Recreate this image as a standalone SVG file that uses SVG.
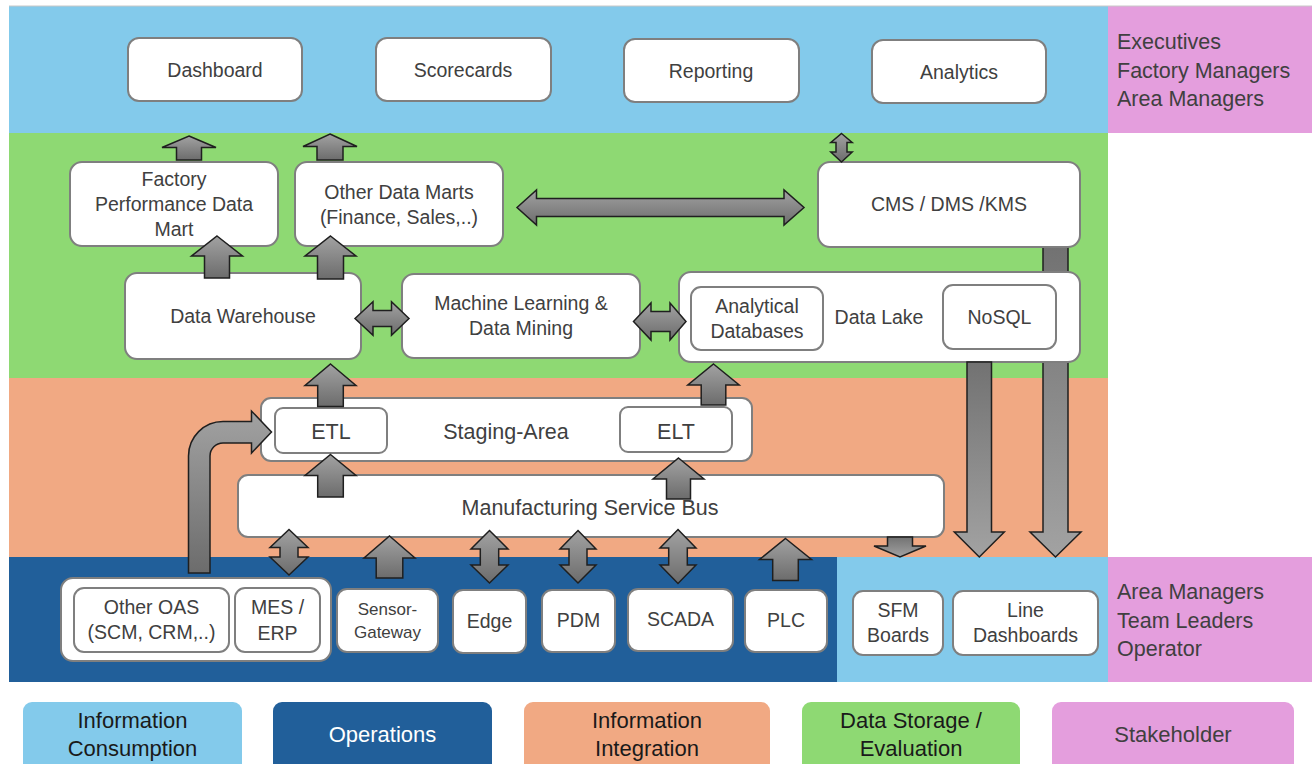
<svg xmlns="http://www.w3.org/2000/svg" width="1312" height="764" viewBox="0 0 1312 764">
<defs>
<linearGradient id="gUp" x1="0" y1="0" x2="0" y2="1"><stop offset="0" stop-color="#a2a2a2"/><stop offset="1" stop-color="#6c6c6c"/></linearGradient>
<linearGradient id="gDown" x1="0" y1="0" x2="0" y2="1"><stop offset="0" stop-color="#727272"/><stop offset="1" stop-color="#a2a2a2"/></linearGradient>
<style>
.box{fill:#fff;stroke:#7f7f7f;stroke-width:2}
.t{font-family:"Liberation Sans",Arial,sans-serif;font-size:19.5px;fill:#404040;text-anchor:middle}
.ts{font-size:17px}
.tb{font-size:21.5px}
.sh{font-family:"Liberation Sans",Arial,sans-serif;font-size:21.5px;fill:#404040}
.lg{font-family:"Liberation Sans",Arial,sans-serif;font-size:22px;fill:#1a1a1a;text-anchor:middle}
.ar{fill:url(#gUp);stroke:#1f1f1f;stroke-width:1.5;stroke-linejoin:miter}
.ad{fill:url(#gDown);stroke:#1f1f1f;stroke-width:1.5}
</style>
</defs>
<rect width="1312" height="764" fill="#fff"/>
<g id="bands">
<rect x="9" y="6" width="1099" height="127" fill="#83CAEB"/>
<rect x="1108" y="6" width="204" height="127" fill="#E49EDD"/>
<rect x="9" y="133" width="1099" height="245" fill="#8ED973"/>
<rect x="9" y="378" width="1099" height="179" fill="#F1A983"/>
<rect x="9" y="557" width="828" height="125" fill="#215F9A"/>
<rect x="837" y="557" width="271" height="125" fill="#83CAEB"/>
<rect x="1108" y="557" width="204" height="125" fill="#E49EDD"/>
<line x1="9" y1="6" x2="1312" y2="6" stroke="#c8c8c8" stroke-width="1"/>
</g>
<g id="stakeholders-top"><text class="sh" x="1117" y="49">Executives</text><text class="sh" x="1117" y="78">Factory Managers</text><text class="sh" x="1117" y="106">Area Managers</text></g>
<g id="stakeholders-bottom"><text class="sh" x="1117" y="599">Area Managers</text><text class="sh" x="1117" y="628">Team Leaders</text><text class="sh" x="1117" y="656">Operator</text></g>
<g id="connectors-back">
<polygon class="ad" points="1043,247 1068,247 1068,532 1081,532 1055.5,557 1030,532 1043,532"/>
</g>
<g id="dashboard"><rect class="box" x="128" y="38" width="174" height="63" rx="11"/><text class="t" x="215" y="77">Dashboard</text></g>
<g id="scorecards"><rect class="box" x="376" y="38" width="175" height="63" rx="11"/><text class="t" x="463" y="77">Scorecards</text></g>
<g id="reporting"><rect class="box" x="624" y="39" width="175" height="63" rx="11"/><text class="t" x="711" y="78">Reporting</text></g>
<g id="analytics"><rect class="box" x="872" y="40" width="174" height="63" rx="11"/><text class="t" x="959" y="79">Analytics</text></g>
<g id="factory-mart"><rect class="box" x="70" y="162" width="208" height="84" rx="12"/><text class="t" x="174" y="186">Factory</text><text class="t" x="174" y="211">Performance Data</text><text class="t" x="174" y="236">Mart</text></g>
<g id="other-marts"><rect class="box" x="295" y="162" width="208" height="84" rx="12"/><text class="t" x="399" y="199">Other Data Marts</text><text class="t" x="399" y="224">(Finance, Sales,..)</text></g>
<g id="cms"><rect class="box" x="818" y="162" width="262" height="85" rx="12"/><text class="t" x="949" y="211">CMS / DMS /KMS</text></g>
<g id="data-warehouse"><rect class="box" x="125" y="273" width="236" height="86" rx="12"/><text class="t" x="243" y="323">Data Warehouse</text></g>
<g id="ml"><rect class="box" x="402" y="274" width="238" height="84" rx="12"/><text class="t" x="521" y="310">Machine Learning &amp;</text><text class="t" x="521" y="335">Data Mining</text></g>
<g id="data-lake"><rect class="box" x="679" y="272" width="401" height="90" rx="12"/><rect class="box" x="691" y="287" width="132" height="63" rx="10"/><text class="t" x="757" y="313">Analytical</text><text class="t" x="757" y="338">Databases</text><text class="t" x="879" y="324">Data Lake</text><rect class="box" x="943" y="285" width="113" height="64" rx="10"/><text class="t" x="999.5" y="324">NoSQL</text></g>
<g id="staging"><rect class="box" x="261" y="398" width="491" height="63" rx="10"/><text class="t tb" x="506" y="439">Staging-Area</text><rect class="box" x="275" y="408" width="112" height="45" rx="8"/><text class="t tb" x="331" y="439">ETL</text><rect class="box" x="620" y="407" width="112" height="45" rx="8"/><text class="t tb" x="676" y="439">ELT</text></g>
<g id="msb"><rect class="box" x="238" y="475" width="706" height="62" rx="10"/><text class="t tb" x="590" y="515">Manufacturing Service Bus</text></g>
<g id="oas-mes"><rect class="box" x="61" y="578" width="270" height="83" rx="12"/><rect class="box" x="74" y="588" width="155" height="64" rx="10"/><text class="t" x="151.5" y="614">Other OAS</text><text class="t" x="151.5" y="639">(SCM, CRM,..)</text><rect class="box" x="235" y="588" width="85" height="64" rx="10"/><text class="t" x="277.5" y="614">MES /</text><text class="t" x="277.5" y="640">ERP</text></g>
<g id="sensor-gateway"><rect class="box" x="337" y="589" width="101" height="63" rx="10"/><text class="t ts" x="387.5" y="615">Sensor-</text><text class="t ts" x="387.5" y="638">Gateway</text></g>
<g id="edge"><rect class="box" x="453" y="590" width="73" height="63" rx="10"/><text class="t" x="489.5" y="628">Edge</text></g>
<g id="pdm"><rect class="box" x="542" y="590" width="73" height="62" rx="10"/><text class="t" x="578.5" y="627">PDM</text></g>
<g id="scada"><rect class="box" x="628" y="589" width="105" height="62" rx="10"/><text class="t" x="680.5" y="626">SCADA</text></g>
<g id="plc"><rect class="box" x="745" y="590" width="82" height="62" rx="10"/><text class="t" x="786" y="627">PLC</text></g>
<g id="sfm"><rect class="box" x="853" y="591" width="90" height="64" rx="10"/><text class="t" x="898" y="617">SFM</text><text class="t" x="898" y="642">Boards</text></g>
<g id="line-dashboards"><rect class="box" x="953" y="591" width="145" height="64" rx="10"/><text class="t" x="1025.5" y="617">Line</text><text class="t" x="1025.5" y="642">Dashboards</text></g>
<g id="connectors">
<polygon class="ar" points="189,136 216,147.5 201.5,147.5 201.5,160 176.5,160 176.5,147.5 162,147.5"/>
<polygon class="ar" points="330,134 357,146.5 343,146.5 343,160 317,160 317,146.5 303,146.5"/>
<polygon class="ar" points="217,236 242.5,256 229.5,256 229.5,278 204.5,278 204.5,256 191.5,256"/>
<polygon class="ar" points="330.5,236 356,256 343.5,256 343.5,279 317.5,279 317.5,256 305,256"/>
<polygon class="ar" points="330.5,364 356,385.5 343.3,385.5 343.3,406.5 317.7,406.5 317.7,385.5 305,385.5"/>
<polygon class="ar" points="330.5,454.5 356,475.5 343.3,475.5 343.3,497 317.7,497 317.7,475.5 305,475.5"/>
<polygon class="ar" points="713.5,364 739.2,385 725.8,385 725.8,405 701.2,405 701.2,385 687.8,385"/>
<polygon class="ar" points="678.5,458 704,479 690.5,479 690.5,499 666.5,499 666.5,479 653,479"/>
<polygon class="ar" points="389.5,536 415,558 402.8,558 402.8,578 376.2,578 376.2,558 364,558"/>
<polygon class="ar" points="785.5,538.5 811.5,559.5 798.3,559.5 798.3,580.5 772.7,580.5 772.7,559.5 759.5,559.5"/>
<polygon class="ar" points="289,529.5 308,547.5 298,547.5 298,557 308,557 289,575 270,557 280,557 280,547.5 270,547.5"/>
<polygon class="ar" points="489.5,530.5 508,549 498.7,549 498.7,565 508,565 489.5,583 471,565 480.3,565 480.3,549 471,549"/>
<polygon class="ar" points="578,530.5 596,549 587,549 587,565 596,565 578,583 560,565 569,565 569,549 560,549"/>
<polygon class="ar" points="678,529.5 696,548 687.3,548 687.3,565 696,565 678,583.5 660,565 668.7,565 668.7,548 660,548"/>
<polygon class="ar" points="841.5,133.5 852.2,142.5 847,142.5 847,152 852.2,152 841.5,162 830.8,152 836,152 836,142.5 830.8,142.5"/>
<polygon class="ar" points="355,318.5 373,301.8 373,310.5 391.5,310.5 391.5,301.8 409,318.5 391.5,335.2 391.5,326.5 373,326.5 373,335.2"/>
<polygon class="ar" points="633.5,321.5 651,303 651,311.5 670,311.5 670,303 686,321.5 670,340 670,331.5 651,331.5 651,340"/>
<polygon class="ar" points="517,207.5 536.5,190 536.5,198.5 784,198.5 784,190 804,207.5 784,225 784,216.5 536.5,216.5 536.5,225"/>
<polygon class="ad" points="887.5,537 912.5,537 912.5,546 926,546 900,557 874,546 887.5,546"/>
<polygon class="ad" points="967,362 991.5,362 991.5,532 1004.3,532 979.3,557 954.3,532 967,532"/>
<path class="ar" d="M188.5,573 L188.5,456 A34.5,34.5 0 0 1 223,421.5 L251.5,421.5 L251.5,411 L271.5,432 L251.5,453 L251.5,443 L223,443 A13,13 0 0 0 210,456 L210,573 Z"/>
</g>
<g id="legend">
<rect x="23" y="702" width="219" height="70" rx="9" fill="#83CAEB"/>
<text class="lg" x="132.5" y="728">Information</text><text class="lg" x="132.5" y="756">Consumption</text>
<rect x="273" y="702" width="219" height="70" rx="9" fill="#215F9A"/>
<text class="lg" x="382.5" y="742" fill="#ffffff" style="fill:#fff">Operations</text>
<rect x="524" y="702" width="246" height="70" rx="9" fill="#F1A983"/>
<text class="lg" x="647" y="728">Information</text><text class="lg" x="647" y="756">Integration</text>
<rect x="802" y="702" width="218" height="70" rx="9" fill="#8ED973"/>
<text class="lg" x="911" y="728">Data Storage /</text><text class="lg" x="911" y="756">Evaluation</text>
<rect x="1052" y="702" width="242" height="70" rx="9" fill="#E49EDD"/>
<text class="lg" x="1173" y="742" style="fill:#404040">Stakeholder</text>
</g>
</svg>
